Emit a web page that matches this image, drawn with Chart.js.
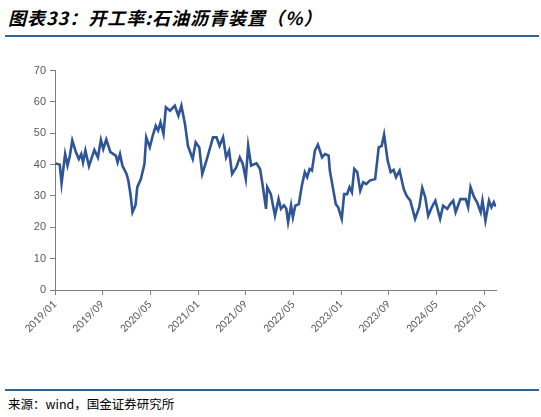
<!DOCTYPE html>
<html><head><meta charset="utf-8">
<script src="https://cdn.jsdelivr.net/npm/chart.js@4"></script>
<style>
body{margin:0;width:541px;height:417px;background:#fff;position:relative;overflow:hidden;font-family:"Noto Sans CJK SC",sans-serif}
#title{position:absolute;left:8px;top:4px;font-size:18px;font-weight:bold;font-style:italic;color:#000;letter-spacing:1px}
#l1{position:absolute;left:5px;right:2px;top:35px;height:2px;background:#2e6496}
#l2{position:absolute;left:5px;right:2px;top:389px;height:2px;background:#2e6496}
#src{position:absolute;left:8px;top:394px;font-size:12.5px;color:#000}
#box{position:absolute;left:0;top:60px;width:497px;height:300px}
</style></head><body>
<div id="title">图表33：开工率:石油沥青装置（%）</div>
<div id="l1"></div>
<div id="box"><canvas id="c"></canvas></div>
<div id="l2"></div>
<div id="src">来源：wind，国金证券研究所</div>
<script>
const months=[0.1,0.8,1.1,1.7,2.1,2.5,2.9,3.5,4.0,4.4,4.7,5.1,5.7,6.6,7.2,7.7,8.1,8.6,9.3,10.2,10.5,10.9,11.3,12.0,12.3,12.7,13.0,13.5,13.8,14.4,15.0,15.3,15.9,16.4,16.9,17.3,17.7,18.2,18.6,19.3,20.1,20.7,21.2,21.8,22.3,23.1,23.6,24.2,24.7,25.4,26.2,26.5,27.1,27.6,28.2,28.7,29.2,29.7,30.4,31.0,31.5,32.0,32.4,32.9,33.8,34.4,34.8,35.4,35.6,36.2,36.9,37.5,37.9,38.4,38.8,39.1,39.6,39.9,40.3,40.9,41.4,41.9,42.3,42.7,43.1,43.6,44.1,44.8,45.3,45.9,46.1,46.7,47.1,47.5,48.1,48.5,49.0,49.4,49.8,50.2,50.7,51.2,51.7,52.2,52.8,53.7,54.3,54.8,55.2,55.8,56.3,56.8,57.2,57.8,58.5,59.0,59.6,60.4,61.1,61.6,62.1,62.6,63.2,63.8,64.6,65.1,65.8,66.3,66.8,67.2,68.0,68.9,69.3,69.7,70.3,70.8,71.4,71.7,72.2,72.8,73.2,73.6,73.9];
const rates=[40.4,40,34,43.4,39.7,42.9,47.7,44,41.8,43.4,40.7,44.5,39.5,44.7,42.3,47.9,45,48,44,42.9,40.7,43.4,39.7,37,34.9,30,24.8,27,32.8,35.4,40.2,48.7,45.5,49.3,52.4,50.9,53.5,49.8,58.3,57.2,58.8,55.6,58.8,53,46,41.8,47.1,45.5,37,41.3,46.6,48.7,48.7,46,48.7,42.3,44.5,37,39.1,42.3,40.2,35.4,46,39.7,40.4,38.6,33.8,25.9,32.8,30.6,23.7,29,25.9,27,25.9,21.6,27,23.2,26.9,27.4,33.3,37.6,36,38.6,38.1,44.5,46.4,42.3,43.4,42.9,38.1,31.7,27.4,26.4,22.7,30.6,30.6,32.8,31.2,38.6,37.6,31.7,34.4,33.8,34.9,35.4,45.5,46,49.6,41.3,37.6,38.3,36,38.1,32.2,30,28.5,22.7,26.4,32.6,29.6,23.7,26.4,28.5,22.7,26.9,25.9,27.4,28.5,24.8,29,29,26.4,32.8,29.6,28,24.8,28.5,22.1,28.5,26.4,28,26.6];
const tickLabels=['2019/01','2019/09','2020/05','2021/01','2021/09','2022/05','2023/01','2023/09','2024/05','2025/01'];
const yTicks=[0,10,20,30,40,50,60,70];
const pts=months.map((m,i)=>({x:m,y:rates[i]}));
new Chart(document.getElementById('c'),{type:'line',
data:{datasets:[{data:pts,borderColor:'#2f5597',borderWidth:2.6,pointRadius:0,tension:0}]},
options:{responsive:true,maintainAspectRatio:false,animation:false,
layout:{padding:{top:8,right:0,left:0,bottom:0}},
plugins:{legend:{display:false},tooltip:{enabled:false}},
scales:{
x:{type:'linear',min:0,max:74,afterFit:s=>{s.height=70},
 afterBuildTicks:s=>{s.ticks=tickLabels.map((_,i)=>({value:i*8}))},
 ticks:{autoSkip:false,maxRotation:45,minRotation:45,color:'#595959',font:{size:11.5,family:'Carlito, Liberation Sans, sans-serif'},callback:(v)=>tickLabels[Math.round(v/8)]},
 grid:{display:true,drawOnChartArea:false,tickLength:5,color:'#808080'},border:{color:'#808080'}},
y:{min:0,max:70,afterFit:s=>{s.width=55},
 afterBuildTicks:s=>{s.ticks=yTicks.map(v=>({value:v}))},
 ticks:{color:'#595959',padding:4,font:{size:11,family:'Liberation Sans, sans-serif'}},
 grid:{display:true,drawOnChartArea:false,tickLength:5,color:'#808080'},border:{color:'#808080'}}
}}});
</script></body></html>
